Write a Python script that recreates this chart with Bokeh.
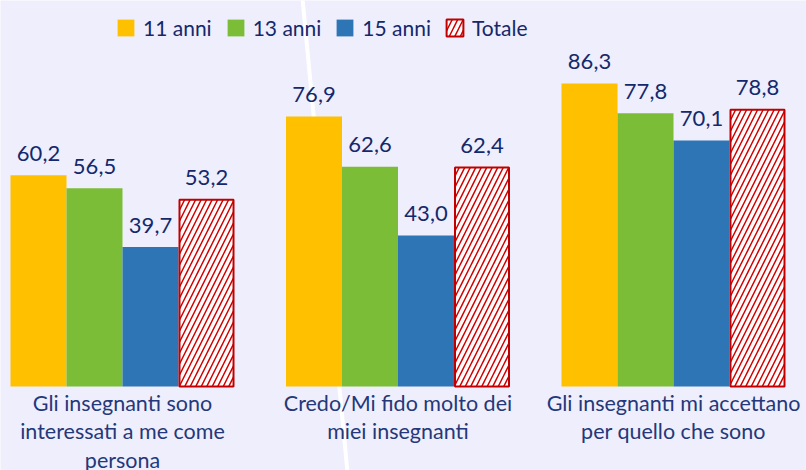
from bokeh.plotting import figure
from bokeh.models import Legend, LegendItem, ColumnDataSource, Range1d
from bokeh.core.properties import value
from bokeh.embed import file_html
from bokeh.resources import INLINE

# ---- data ----
categories = [
    "Gli insegnanti sono\ninteressati a me come\npersona",
    "Credo/Mi fido molto dei\nmiei insegnanti",
    "Gli insegnanti mi accettano\nper quello che sono",
]
series_names = ["11 anni", "13 anni", "15 anni", "Totale"]
anni_11 = [60.2, 76.9, 86.3]
anni_13 = [56.5, 62.6, 77.8]
anni_15 = [39.7, 43.0, 70.1]
totale = [53.2, 62.4, 78.8]

# ---- styling ----
BG = "#EFEEFC"
NAVY = "#14286B"
LABEL_NAVY = "#24387A"
W, H = 806, 470
PX_PER_CAT = 275.5
PX_PER_UNIT = 3.511
BASE_PX = 386          # y=0 position from frame top
LEFT_CENTER_PX = 122   # first category center from frame left

x_start = -LEFT_CENTER_PX / PX_PER_CAT
x_end = x_start + W / PX_PER_CAT
y_end = BASE_PX / PX_PER_UNIT
y_start = -(H - BASE_PX) / PX_PER_UNIT

p = figure(width=W, height=H, output_backend="svg", toolbar_location=None,
           x_range=Range1d(x_start, x_end), y_range=Range1d(y_start, y_end),
           min_border=0, background_fill_color=BG, border_fill_color=BG)
p.axis.visible = False
p.grid.visible = False
p.outline_line_color = None

# decorative white stroke (page pixel coords -> data)
def px2data(px, py):
    return (x_start + px / PX_PER_CAT, (BASE_PX - py) / PX_PER_UNIT)

(x0, y0), (x1, y1) = px2data(302, -2), px2data(347, 472)
p.segment(x0=[x0], y0=[y0], x1=[x1], y1=[y1], line_color="white", line_width=4)

bw = 56 / PX_PER_CAT
offsets = [-1.5 * bw, -0.5 * bw, 0.5 * bw, 1.5 * bw]
all_vals = [anni_11, anni_13, anni_15, totale]
fills = ["#FFC000", "#7CBD37", "#2E75B6", "white"]

renderers = []
for k, vals in enumerate(all_vals):
    xs = [i + offsets[k] for i in range(len(categories))]
    src = ColumnDataSource(dict(x=xs, top=vals,
                                lab=[f"{v:.1f}".replace(".", ",") for v in vals]))
    if k < 3:
        r = p.vbar(x="x", top="top", width=bw, source=src,
                   fill_color=fills[k], line_color=None)
    else:
        r = p.vbar(x="x", top="top", width=bw - 2 / PX_PER_CAT, source=src,
                   fill_color="white", line_color="#C00000", line_width=2,
                   hatch_pattern="/", hatch_color="#D40000", hatch_weight=1.5,
                   hatch_scale=11)
    renderers.append(r)
    p.text(x="x", y="top", text="lab", source=src, text_align="center",
           text_baseline="alphabetic", y_offset=-22,
           text_font=value("Lato"), text_font_size="22px", text_color=NAVY)

# category labels
cat_src = ColumnDataSource(dict(x=list(range(len(categories))),
                                y=[0] * len(categories), t=categories))
p.text(x="x", y="y", text="t", source=cat_src, text_align="center",
       text_baseline="top", y_offset=3, text_font=value("Lato"),
       text_font_size="21.5px", text_color=LABEL_NAVY, text_line_height=1.1)

legend = Legend(items=[LegendItem(label=n, renderers=[r])
                       for n, r in zip(series_names, renderers)],
                orientation="horizontal", location=(115, 430),
                glyph_width=21, glyph_height=21, label_standoff=7, spacing=13,
                padding=0, margin=0, label_height=21,
                label_text_font="Lato", label_text_font_size="21px",
                label_text_color=NAVY, background_fill_alpha=0,
                border_line_alpha=0)
p.add_layout(legend, "center")

html = file_html(p, INLINE)
html = html.replace("<body>", f'<body style="margin:0;background:{BG};">', 1)
open("out.html", "w").write(html)
